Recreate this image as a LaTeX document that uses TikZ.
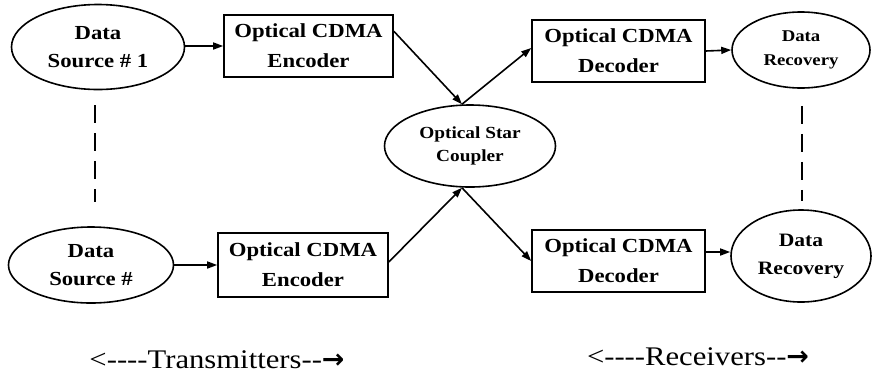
\documentclass[tikz,border=0pt]{standalone}
\usepackage{fontspec}
\setmainfont{Liberation Serif}[FakeStretch=1.14]
\newfontfamily\arrowfont{DejaVu Sans}
\usetikzlibrary{shapes.geometric,arrows.meta,calc}
\tikzset{
  lw/.style={line width=1.6bp},
  oval/.style={ellipse,draw,lw,align=center,inner sep=0pt,font=\bfseries\fontsize{20}{28}\selectfont},
  smalloval/.style={oval,font=\bfseries\fontsize{17}{23}\selectfont},
  box/.style={rectangle,draw,lw,align=center,inner sep=0pt,font=\bfseries\fontsize{20}{30}\selectfont},
  conn/.style={lw,-{Triangle[length=10bp,width=7bp]}},
  dashline/.style={lw,dash pattern=on 18bp off 10bp},
  caption/.style={font=\fontsize{27}{30}\selectfont,inner sep=0pt}
}
\begin{document}
\begin{tikzpicture}[x=1bp,y=-1bp]
\useasboundingbox (0,0) rectangle (872,376);
% top row
\node[oval,minimum width=173bp,minimum height=85bp] (ds1) at (98,47) {Data\\Source \# 1};
\node[box,minimum width=169bp,minimum height=62bp] (enc1) at (308.5,46) {Optical CDMA\\Encoder};
\node[box,minimum width=173bp,minimum height=62bp] (dec1) at (618.5,51) {Optical CDMA\\Decoder};
\node[smalloval,minimum width=138bp,minimum height=76bp,font=\bfseries\fontsize{16.5}{24}\selectfont] (dr1) at (801,50) {Data\\Recovery};
% coupler
\node[smalloval,minimum width=171bp,minimum height=82bp] (cp) at (470,146) {Optical Star\\Coupler};
% bottom row
\node[oval,minimum width=165bp,minimum height=76bp] (ds2) at (91,265) {Data\\Source \#};
\node[box,minimum width=170bp,minimum height=64bp] (enc2) at (303,265) {Optical CDMA\\Encoder};
\node[box,minimum width=173bp,minimum height=62bp] (dec2) at (618.5,261) {Optical CDMA\\Decoder};
\node[oval,minimum width=140bp,minimum height=92bp,font=\bfseries\fontsize{19}{28}\selectfont] (dr2) at (801,256) {Data\\Recovery};
% captions
\node[caption] (tx) at (217,360) {<{-}{-}{-}{-}Transmitters{-}{-}{\arrowfont\bfseries →}};
\node[caption] (rx) at (698,357) {<{-}{-}{-}{-}Receivers{-}{-}{\arrowfont\bfseries →}};
% coordinates
\coordinate (cpt) at ($(cp.north)+(-8,0)$);
\coordinate (cpb) at ($(cp.south)+(-8,0)$);
% connectors
\draw[conn] (ds1.east |- enc1.west) -- (enc1.west);
\draw[conn] ($(enc1.north east)+(0,17)$) -- (cpt);
\draw[conn] (cpt) -- ($(dec1.west)+(0,-3)$);
\draw[conn] (dec1.east) -- (dr1.west);
\draw[conn] (ds2.east |- enc2.west) -- (enc2.west);
\draw[conn] ($(enc2.east)+(0,-3)$) -- (cpb);
\draw[conn] (cpb) -- (dec2.west);
\draw[conn] ($(dec2.east)+(0,-9)$) -- (dr2.west |- {$(dec2.east)+(0,-9)$});
% dashed continuation lines
\draw[dashline] ($(ds1.south)+(-3,15)$) -- ($(ds2.north)+(4,-24)$);
\draw[dashline] ($(dr1.south)+(1,17)$) -- ($(dr2.north)+(1,-8)$);
\end{tikzpicture}
\end{document}
